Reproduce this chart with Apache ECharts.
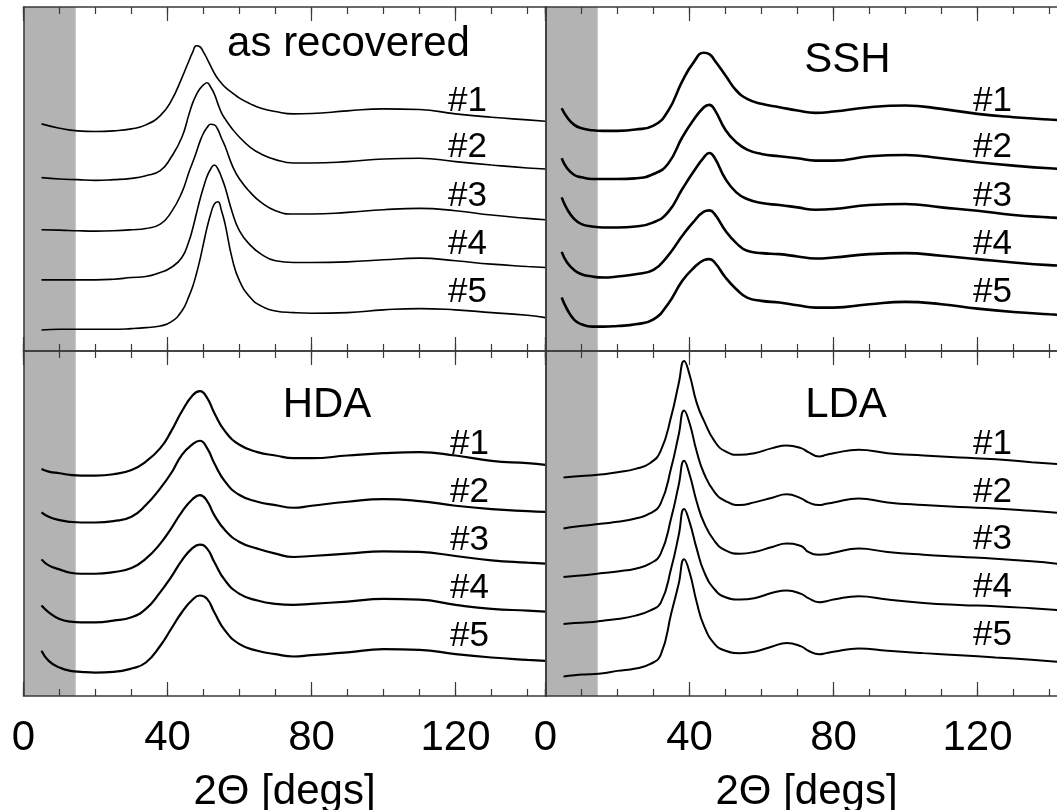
<!DOCTYPE html>
<html>
<head>
<meta charset="utf-8">
<script src="https://cdn.jsdelivr.net/npm/echarts@6/dist/echarts.min.js"></script>
<style>
  html, body { margin: 0; padding: 0; background: #fff; }
  #main { width: 1057px; height: 810px; }
</style>
</head>
<body>
<div id="main"></div>
<script>
// 2Theta grids (degrees) and the 5 stacked patterns of every panel (offset counts, a.u.)
var degAsRecovered = [5, 10, 15, 20, 25, 30, 34, 38, 41, 44, 46, 47, 48, 49, 50, 51, 52, 53, 54, 55, 56, 58, 60, 63, 66, 70, 75, 80, 90, 100, 110, 120, 130, 140, 145];
var asRecovered = [
    [680, 667, 659, 657, 659, 665, 677, 705, 748, 818, 870, 895, 914, 911, 895, 875, 853, 832, 815, 802, 790, 773, 757, 740, 727, 717, 710, 711, 719, 725, 723, 710, 700, 692, 688],
    [519, 515, 513, 511, 513, 517, 525, 540, 580, 640, 710, 743, 767, 785, 797, 803, 790, 770, 740, 713, 695, 665, 640, 610, 590, 573, 563, 563, 567, 575, 577, 567, 557, 548, 545],
    [363, 362, 360, 359, 360, 363, 367, 380, 415, 475, 537, 565, 595, 627, 652, 669, 679, 677, 663, 637, 613, 555, 515, 475, 445, 420, 410, 410, 415, 423, 427, 420, 407, 397, 393],
    [213, 213, 213, 213, 215, 220, 223, 235, 250, 280, 330, 367, 410, 453, 490, 523, 545, 557, 545, 520, 490, 415, 360, 317, 290, 270, 265, 265, 267, 273, 278, 270, 260, 253, 250],
    [63, 65, 65, 65, 65, 67, 70, 75, 87, 120, 165, 193, 230, 273, 322, 370, 410, 440, 447, 420, 380, 275, 210, 160, 135, 120, 115, 113, 115, 123, 127, 123, 115, 107, 100]
];

var degSSH = [4.5, 6, 8, 10, 13, 16, 20, 25, 30, 34, 38, 41, 44, 45.5, 47, 50, 53, 56, 60, 65, 70, 75, 80, 90, 100, 110, 120, 130, 140, 145];
var ssh = [
    [727, 700, 677, 667, 661, 659, 659, 663, 675, 718, 808, 862, 893, 889, 870, 825, 780, 755, 740, 730, 720, 713, 717, 730, 735, 725, 710, 700, 693, 690],
    [577, 547, 527, 520, 515, 515, 515, 517, 530, 560, 640, 690, 730, 737, 722, 662, 625, 603, 590, 583, 577, 570, 570, 583, 587, 577, 565, 555, 547, 545],
    [460, 425, 395, 380, 373, 370, 370, 373, 385, 415, 485, 535, 580, 593, 578, 515, 475, 455, 443, 437, 430, 423, 425, 437, 440, 430, 420, 407, 400, 397],
    [297, 265, 242, 230, 223, 220, 223, 230, 243, 285, 345, 385, 417, 421, 410, 360, 323, 300, 293, 290, 283, 277, 280, 290, 293, 285, 275, 265, 257, 255],
    [160, 125, 93, 80, 73, 73, 75, 80, 95, 140, 210, 247, 272, 275, 265, 220, 185, 160, 150, 145, 137, 130, 130, 140, 147, 140, 127, 117, 110, 107]
];

var degHDA = [5, 7, 10, 13, 16, 20, 25, 30, 34, 38, 41, 44, 47, 49, 51, 53, 56, 60, 65, 70, 75, 80, 90, 100, 110, 120, 130, 140, 145];
var hda = [
    [678, 670, 665, 660, 658, 658, 662, 675, 700, 740, 790, 850, 898, 910, 890, 845, 790, 750, 728, 718, 710, 710, 718, 725, 728, 718, 702, 695, 690],
    [548, 535, 525, 520, 518, 518, 522, 535, 570, 620, 665, 720, 752, 762, 740, 695, 640, 600, 580, 570, 562, 568, 580, 588, 582, 568, 558, 552, 550],
    [408, 390, 378, 368, 365, 365, 370, 382, 410, 455, 500, 550, 588, 600, 582, 540, 495, 460, 440, 425, 415, 418, 425, 432, 430, 418, 405, 398, 395],
    [270, 250, 230, 222, 220, 220, 225, 235, 260, 310, 355, 405, 442, 452, 440, 400, 345, 305, 285, 275, 272, 275, 282, 290, 288, 272, 260, 255, 252],
    [135, 105, 85, 75, 72, 70, 72, 82, 100, 150, 200, 250, 288, 300, 290, 250, 195, 155, 135, 125, 118, 122, 130, 140, 138, 125, 115, 108, 105]
];

var degLDA = [5, 8, 12, 16, 20, 25, 29, 32, 35, 37, 38.5, 40, 42, 44, 47, 50, 54, 58, 63, 67, 71, 73, 76, 78, 80, 87, 95, 105, 115, 125, 135, 145];
var lda = [
    [652, 655, 658, 662, 668, 678, 695, 732, 838, 933, 1000, 960, 875, 822, 760, 730, 720, 725, 740, 748, 740, 728, 715, 720, 725, 735, 725, 718, 712, 707, 698, 690],
    [500, 505, 510, 515, 520, 530, 545, 575, 685, 780, 852, 815, 730, 665, 608, 582, 570, 578, 592, 602, 590, 578, 570, 574, 578, 590, 578, 570, 564, 560, 553, 545],
    [355, 358, 362, 367, 372, 380, 395, 425, 535, 630, 702, 662, 580, 518, 462, 435, 425, 430, 445, 455, 448, 430, 422, 423, 428, 440, 430, 422, 416, 410, 402, 392],
    [215, 218, 220, 225, 230, 240, 255, 278, 385, 480, 558, 520, 440, 372, 318, 295, 288, 292, 308, 315, 305, 292, 280, 283, 288, 298, 288, 278, 272, 268, 262, 255],
    [58, 62, 65, 68, 75, 82, 95, 123, 250, 335, 408, 370, 280, 210, 155, 135, 128, 132, 148, 158, 148, 135, 125, 128, 132, 142, 135, 128, 122, 115, 108, 100]
];

var sampleTags = ['#1', '#2', '#3', '#4', '#5'];
var bandRange = [0, 14.5];      // shaded low-angle region
var xMin = 0, xMax = 145, yMax = 1030;
var majorStep = 40, minorStep = 10;

var FONT = '"Liberation Sans", Arial, Helvetica, sans-serif';
var AXIS_COLOR = '#3a3a3a';
var MID = 0.31;   // middle-baseline to alphabetic-baseline, in em

var panels = [
    {title: 'as recovered', deg: degAsRecovered, counts: asRecovered, lw: 1.6,
        grid: {left: 23.5, top: 7, width: 522, height: 344}, bottom: false,
        titleX: 348.5, titleBase: 57, tagX: 448, tagBase: [112, 158, 207, 255, 303]},
    {title: 'SSH', deg: degSSH, counts: ssh, lw: 2.6,
        grid: {left: 545.5, top: 7, width: 522, height: 344}, bottom: false,
        titleX: 847.5, titleBase: 73, tagX: 973, tagBase: [112, 158, 207, 255, 303]},
    {title: 'HDA', deg: degHDA, counts: hda, lw: 2.2,
        grid: {left: 23.5, top: 351, width: 522, height: 345}, bottom: true,
        titleX: 327, titleBase: 418, tagX: 450, tagBase: [455, 503.5, 551, 599.5, 647]},
    {title: 'LDA', deg: degLDA, counts: lda, lw: 2.0,
        grid: {left: 545.5, top: 351, width: 522, height: 345}, bottom: true,
        titleX: 846, titleBase: 418, tagX: 973, tagBase: [455, 503, 550, 598, 646]}
];

function tickAxis(gridIndex, position, step, len, withLine, withLabels) {
    return {
        type: 'value', gridIndex: gridIndex, position: position,
        min: xMin, max: xMax, interval: step, z: 10,
        axisLine: {show: withLine, onZero: false, lineStyle: {color: AXIS_COLOR, width: 1.5}},
        axisTick: {show: true, inside: true, length: len, lineStyle: {color: AXIS_COLOR, width: 1.2}},
        axisLabel: {show: withLabels, margin: 21, showMaxLabel: false, color: '#000',
            fontFamily: FONT, fontSize: 42},
        splitLine: {show: false},
        name: withLabels ? '2\u0398 [degs]' : '',
        nameLocation: 'middle', nameGap: 75,
        nameTextStyle: {color: '#000', fontFamily: FONT, fontSize: 42}
    };
}

function frameAxis(gridIndex, position) {
    return {
        type: 'value', gridIndex: gridIndex, position: position,
        min: 0, max: yMax, z: 10,
        axisLine: {show: true, onZero: false, lineStyle: {color: AXIS_COLOR, width: 1.5}},
        axisTick: {show: false}, axisLabel: {show: false}, splitLine: {show: false}
    };
}

var grids = [], xAxes = [], yAxes = [], series = [], graphics = [];

panels.forEach(function (p, i) {
    var g = p.grid;
    grids.push({left: g.left, top: g.top, width: g.width, height: g.height,
        containLabel: false, outerBoundsMode: 'none'});

    xAxes.push(tickAxis(i, 'bottom', minorStep, 7, true, false));        // 4i   (data axis)
    xAxes.push(tickAxis(i, 'bottom', majorStep, 14, false, p.bottom));   // 4i+1
    xAxes.push(tickAxis(i, 'top', minorStep, 7, true, false));           // 4i+2
    xAxes.push(tickAxis(i, 'top', majorStep, 14, false, false));         // 4i+3
    yAxes.push(frameAxis(i, 'left'));
    yAxes.push(frameAxis(i, 'right'));

    // grey band
    series.push({
        type: 'line', xAxisIndex: 4 * i, yAxisIndex: 2 * i, data: [], z: 1, silent: true,
        markArea: {silent: true, itemStyle: {color: '#b3b3b3'},
            data: [[{xAxis: bandRange[0]}, {xAxis: bandRange[1]}]]}
    });

    p.counts.forEach(function (row, j) {
        series.push({
            name: p.title + ' ' + sampleTags[j],
            type: 'line', xAxisIndex: 4 * i, yAxisIndex: 2 * i, z: 3,
            smooth: 0.5, showSymbol: false, silent: true,
            lineStyle: {color: '#000', width: p.lw},
            data: p.deg.map(function (d, k) { return [d, row[k]]; })
        });
        graphics.push({
            type: 'text', x: p.tagX, y: p.tagBase[j] - MID * 35, z: 20,
            style: {text: sampleTags[j], font: '35px ' + FONT, fill: '#000',
                align: 'left', verticalAlign: 'middle'}
        });
    });

    graphics.push({
        type: 'text', x: p.titleX, y: p.titleBase - MID * 42, z: 20,
        style: {text: p.title, font: '42px ' + FONT, fill: '#000',
            align: 'center', verticalAlign: 'middle'}
    });
});

var chart = echarts.init(document.getElementById('main'), null, {renderer: 'canvas'});
chart.setOption({
    backgroundColor: '#fff',
    animation: false,
    grid: grids,
    xAxis: xAxes,
    yAxis: yAxes,
    series: series,
    graphic: graphics
});
</script>
</body>
</html>
